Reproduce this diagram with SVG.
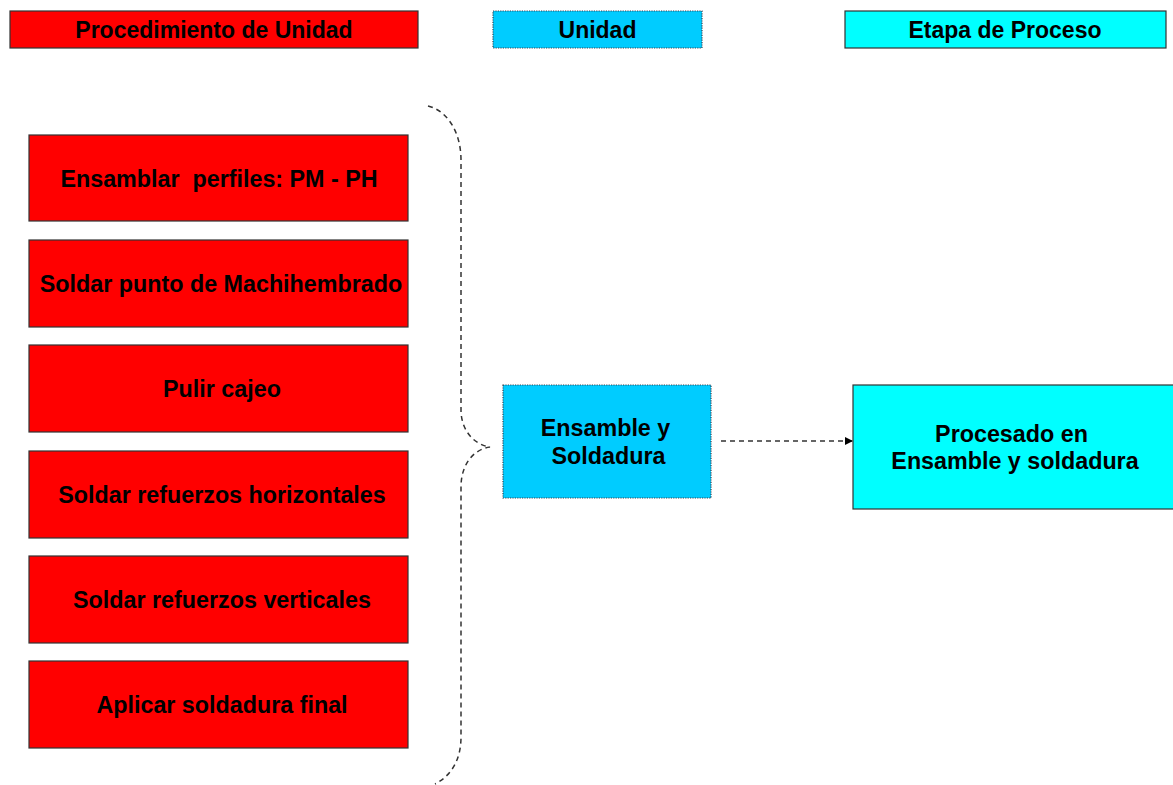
<svg xmlns="http://www.w3.org/2000/svg" width="1173" height="785" viewBox="0 0 1173 785">
  <defs>
    <style>
      .lbl { font-family: "Liberation Sans", Arial, sans-serif; font-weight: bold; font-size: 23.3px; fill: #000; text-anchor: middle; white-space: pre; }
      .hdr { font-family: "Liberation Sans", Arial, sans-serif; font-weight: bold; font-size: 23px; fill: #000; text-anchor: middle; }
      .red { fill: #ff0000; stroke: #333; stroke-width: 1.2; }
      .unit { fill: #00ccff; stroke: #334455; stroke-width: 1.2; stroke-dasharray: 1.2 1.2; }
      .stage { fill: #00ffff; stroke: #333; stroke-width: 1.2; }
      .dash { fill: none; stroke: #333; stroke-width: 1.5; stroke-dasharray: 5 4; }
    </style>
    <marker id="arrow" viewBox="0 0 10 10" refX="10" refY="5" markerWidth="8" markerHeight="9" markerUnits="userSpaceOnUse" orient="auto">
      <path d="M0,0 L10,5 L0,10 z" fill="#000"/>
    </marker>
  </defs>
  <rect width="1173" height="785" fill="#fff"/>

  <!-- column headers -->
  <g id="header-procedimiento">
    <rect class="red" x="10" y="11" width="408" height="37"/>
    <text class="hdr" x="214" y="38">Procedimiento de Unidad</text>
  </g>
  <g id="header-unidad">
    <rect class="unit" x="493" y="11" width="209" height="37"/>
    <text class="hdr" x="597.5" y="38">Unidad</text>
  </g>
  <g id="header-etapa">
    <rect class="stage" x="845" y="11" width="321" height="37"/>
    <text class="hdr" x="1005" y="38">Etapa de Proceso</text>
  </g>

  <!-- procedure steps -->
  <g id="step-ensamblar">
    <rect class="red" x="29" y="135" width="379" height="86"/>
    <text class="lbl" x="219" y="187" xml:space="preserve">Ensamblar  perfiles: PM - PH</text>
  </g>
  <g id="step-machihembrado">
    <rect class="red" x="29" y="240" width="379" height="87"/>
    <text class="lbl" x="221" y="292">Soldar punto de Machihembrado</text>
  </g>
  <g id="step-pulir">
    <rect class="red" x="29" y="345" width="379" height="87"/>
    <text class="lbl" x="222" y="397">Pulir cajeo</text>
  </g>
  <g id="step-horizontales">
    <rect class="red" x="29" y="451" width="379" height="87"/>
    <text class="lbl" x="222" y="503">Soldar refuerzos horizontales</text>
  </g>
  <g id="step-verticales">
    <rect class="red" x="29" y="556" width="379" height="87"/>
    <text class="lbl" x="222" y="608">Soldar refuerzos verticales</text>
  </g>
  <g id="step-final">
    <rect class="red" x="29" y="661" width="379" height="87"/>
    <text class="lbl" x="222" y="713">Aplicar soldadura final</text>
  </g>

  <!-- unit -->
  <g id="unidad-ensamble">
    <rect class="unit" x="503" y="385" width="208" height="113"/>
    <text class="lbl" x="605.5" y="436">Ensamble y</text>
    <text class="lbl" x="608.5" y="464">Soldadura</text>
  </g>

  <!-- process stage -->
  <g id="etapa-procesado">
    <rect class="stage" x="853" y="385" width="325" height="124"/>
    <text class="lbl" x="1011.5" y="442">Procesado en</text>
    <text class="lbl" x="1015" y="469">Ensamble y soldadura</text>
  </g>

  <!-- connectors -->
  <g id="connectors">
    <path class="dash" d="M428,106 C448,111 461,133 461,160 L461,410 C461,430 474,445 490,447 C474,449 461,464 461,487 L461,737 C461,760 451,776 435,784"/>
    <line class="dash" x1="721" y1="441" x2="853" y2="441" marker-end="url(#arrow)"/>
  </g>
</svg>
